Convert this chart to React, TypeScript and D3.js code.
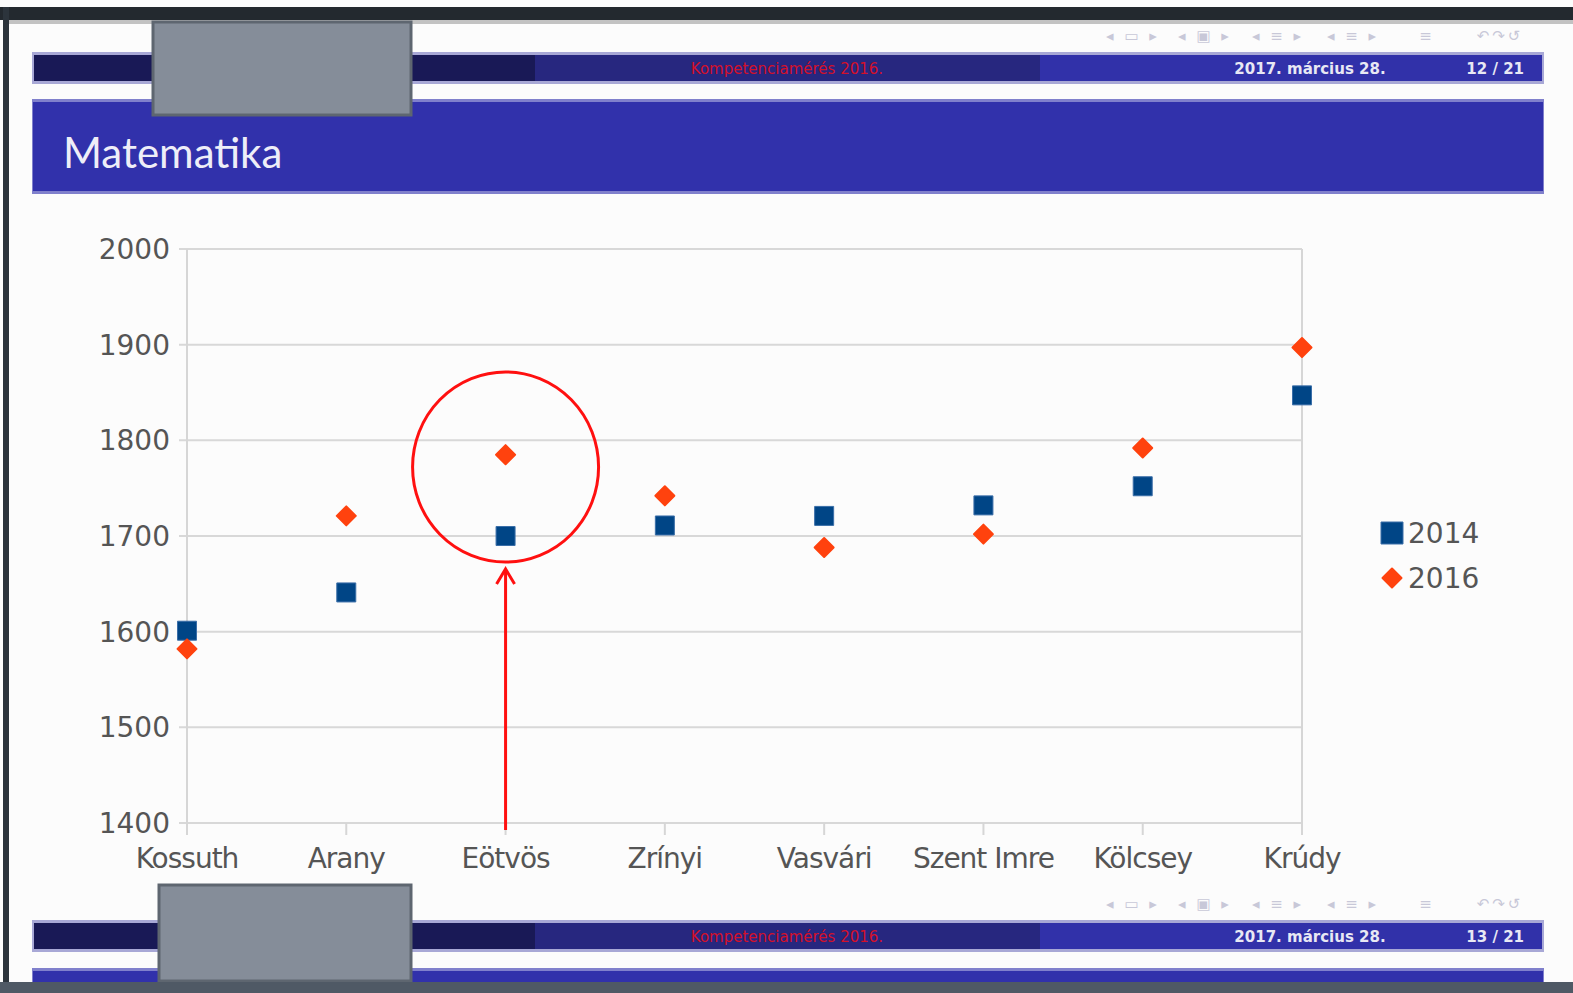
import React from "react";
import * as d3 from "d3";

const schools = ["Kossuth", "Arany", "Eötvös", "Zrínyi", "Vasvári", "Szent Imre", "Kölcsey", "Krúdy"];
const values2014 = [1601, 1641, 1700, 1711, 1721, 1732, 1752, 1847];
const values2016 = [1582, 1721, 1785, 1742, 1688, 1702, 1792, 1897];
const yTicks = [1400, 1500, 1600, 1700, 1800, 1900, 2000];
const seriesNames = ["2014", "2016"];
const navIcons = ["◂ ▭ ▸", "◂ ▣ ▸", "◂ ≡ ▸", "◂ ≡ ▸", "≡", "↶↷↺"];
const navIconX = [1133, 1205, 1278, 1353, 1427, 1500];

const W = 1573;
const H = 993;
const BLUE = "#004586";
const ORANGE = "#ff420e";
const FONT = "'DejaVu Sans', sans-serif";

const x = d3.scalePoint<string>().domain(schools).range([187, 1302]);
const y = d3.scaleLinear().domain([1400, 2000]).range([823, 249]);

const squarePath = d3.symbol().type(d3.symbolSquare).size(19 * 19)();
const diamondPath = "M0,-9.5 L9.5,0 L0,9.5 L-9.5,0 Z";

// beamer navigation bar (header strip of a slide)
const NavBar = ({ top, page }: { top: number; page: string }) => (
  <g>
    {navIcons.map((s, i) => (
      <text key={i} x={navIconX[i]} y={top - 12} fontFamily={FONT} fontSize={15} fill="#c8c8d8" textAnchor="middle" letterSpacing={3}>
        {s}
      </text>
    ))}
    <rect x={32} y={top - 1} width={1512} height={32} fill="#a8a8d6" />
    <rect x={34} y={top + 2} width={501} height={26} fill="#191956" />
    <rect x={535} y={top + 2} width={505} height={26} fill="#27277f" />
    <rect x={1040} y={top + 2} width={502} height={26} fill="#3131a9" />
    <text x={787} y={top + 21} fontFamily={FONT} fontSize={15} fill="#d4102a" textAnchor="middle">
      Kompetenciamérés 2016.
    </text>
    <text x={1310} y={top + 21} fontFamily={FONT} fontSize={15} fontWeight="bold" fill="#e8e8f4" textAnchor="middle">
      2017. március 28.
    </text>
    <text x={1524} y={top + 21} fontFamily={FONT} fontSize={15} fontWeight="bold" fill="#e8e8f4" textAnchor="end">
      {page}
    </text>
  </g>
);

export default function App() {
  return (
    <svg
      width={W}
      height={H}
      style={{ position: "absolute", left: 0, top: 0, display: "block" }}
    >
      <rect width={W} height={H} fill="#fcfcfc" />
      {/* window frame */}
      <rect x={0} y={7} width={W} height={13} fill="#23292f" />
      <rect x={9} y={20} width={W - 9} height={4} fill="#c2c2c2" />
      <rect x={3} y={7} width={6} height={H} fill="#2c343c" />

      <NavBar top={53} page="12 / 21" />

      {/* frame title */}
      <rect x={32} y={99} width={1512} height={95} fill="#8080cc" />
      <rect x={33} y={102} width={1510} height={89} fill="#3131ab" />
      <text x={63} y={168} fontFamily="Lato, sans-serif" fontSize={42} fill="#eeeef8">
        Matematika
      </text>

      {/* gridlines + y axis labels */}
      {yTicks.map((t) => (
        <g key={t}>
          <line x1={179} x2={1302} y1={y(t)} y2={y(t)} stroke="#d8d8d8" strokeWidth={2} />
          <text x={170} y={y(t) + 10} fontFamily={FONT} fontSize={28} fill="#555" textAnchor="end">
            {t}
          </text>
        </g>
      ))}
      <line x1={187} x2={187} y1={249} y2={833} stroke="#d6d6d6" strokeWidth={2} />
      <line x1={1302} x2={1302} y1={249} y2={833} stroke="#d6d6d6" strokeWidth={2} />

      {/* x axis ticks + labels */}
      {schools.map((s) => (
        <g key={s}>
          <line x1={x(s)} x2={x(s)} y1={823} y2={835} stroke="#d6d6d6" strokeWidth={2} />
          <text x={x(s)} y={868} fontFamily={FONT} fontSize={28} fill="#555" textAnchor="middle" letterSpacing={-1}>
            {s}
          </text>
        </g>
      ))}

      {/* series */}
      {schools.map((s, i) => (
        <path key={"a" + s} d={squarePath!} transform={`translate(${x(s)},${y(values2014[i])})`} fill={BLUE} stroke="#3a6ea8" strokeWidth={1} />
      ))}
      {schools.map((s, i) => (
        <path key={"b" + s} d={diamondPath} transform={`translate(${x(s)},${y(values2016[i])})`} fill={ORANGE} stroke={ORANGE} strokeWidth={2} strokeLinejoin="round" />
      ))}

      {/* legend */}
      <path d={d3.symbol().type(d3.symbolSquare).size(22 * 22)()!} transform="translate(1392,533)" fill={BLUE} stroke="#3a6ea8" />
      <text x={1408} y={543} fontFamily={FONT} fontSize={28} fill="#555">{seriesNames[0]}</text>
      <path d={diamondPath} transform="translate(1392,578)" fill={ORANGE} stroke={ORANGE} strokeWidth={2} strokeLinejoin="round" />
      <text x={1408} y={588} fontFamily={FONT} fontSize={28} fill="#555">{seriesNames[1]}</text>

      {/* annotation: circle + arrow on Eötvös */}
      <ellipse cx={x("Eötvös")} cy={467} rx={93} ry={95} fill="none" stroke="#ff1010" strokeWidth={3} />
      <line x1={x("Eötvös")} x2={x("Eötvös")} y1={830} y2={570} stroke="#ff1010" strokeWidth={3} />
      <path
        d={`M${x("Eötvös")! - 9},${584} L${x("Eötvös")},${569} L${x("Eötvös")! + 9},${584}`}
        fill="none"
        stroke="#ff1010"
        strokeWidth={3}
      />

      <NavBar top={921} page="13 / 21" />
      <rect x={32} y={968} width={1512} height={14} fill="#8080cc" />
      <rect x={33} y={971} width={1510} height={11} fill="#3131ab" />

      {/* gray placeholder boxes */}
      <rect x={153} y={22} width={258} height={93} fill="#858d99" stroke="#5e6670" strokeWidth={3} />
      <rect x={159} y={885} width={252} height={96} fill="#858d99" stroke="#5e6670" strokeWidth={3} />

      <rect x={0} y={982} width={W} height={11} fill="#4f5965" />
    </svg>
  );
}
